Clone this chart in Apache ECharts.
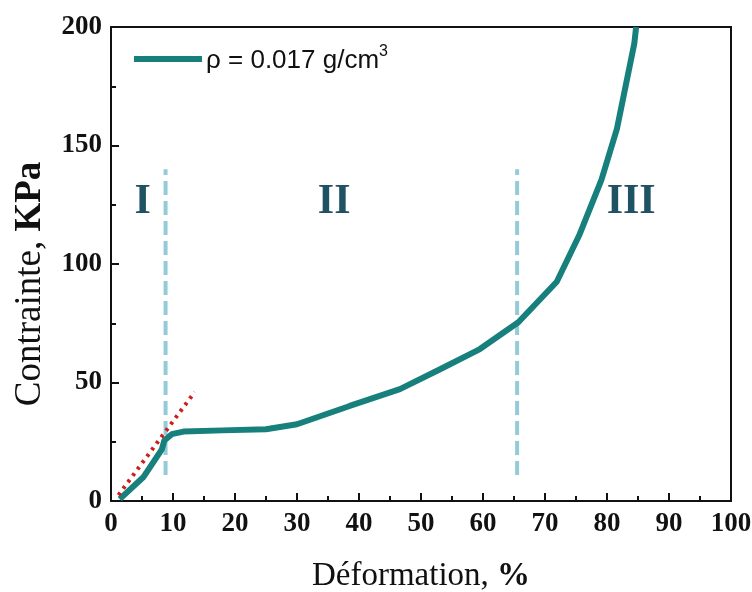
<!DOCTYPE html>
<html><head><meta charset="utf-8">
<script src="https://cdn.jsdelivr.net/npm/echarts@6/dist/echarts.min.js"></script>
<style>html,body{margin:0;padding:0;background:#fff}#c{width:752px;height:592px}</style>
</head><body><div id="c"></div>
<script>
const strain = [1.4, 5.2, 8.2, 8.6, 9.8, 11.7, 18, 25, 30, 38.5, 46.6, 53, 59.5, 65.7, 71.9, 75.5, 79.1, 81.6, 83.7, 84.4, 84.7];
const stress = [0.8, 10, 21.8, 25.5, 28.2, 29.3, 29.8, 30.3, 32.4, 40.1, 47.2, 55.5, 64.1, 75.4, 92.5, 112, 135.5, 157, 184, 193, 200];
const tangentX = [1.2, 13.5];
const tangentY = [2.5, 46];
const dividerX = [8.8, 65.5];
const dividerY = [11, 140];
const regionNames = ['I', 'II', 'III'];
const regionX = [5.1, 36, 83.9];
const regionY = [126, 126, 126];
const xTicks = [0,10,20,30,40,50,60,70,80,90,100];
const yTicks = [0,50,100,150,200];

const teal = '#17807d';
const curve = strain.map((x,i)=>[x, stress[i]]);
const series = [];
dividerX.forEach((x)=>{
  series.push({type:'line', data:[[x,dividerY[0]],[x,dividerY[1]]], symbol:'none', silent:true,
    lineStyle:{color:'#93cbd9', width:4, type:[14,6]}, z:1});
});
series.push({type:'line', data: tangentX.map((x,i)=>[x,tangentY[i]]), symbol:'none', silent:true,
  lineStyle:{color:'#d01c1c', width:4, type:[3,5]}, z:3});
series.push({name:'rho', type:'line', data:curve, symbol:'none', lineStyle:{color:teal, width:6}, itemStyle:{color:teal}, z:2});
series.push({type:'scatter', data: regionNames.map((n,i)=>({value:[regionX[i],regionY[i]], name:n})), symbolSize:0,
  itemStyle:{color:'#1f5263', opacity:1},
  label:{show:true, position:'inside', formatter:'{b}', color:'#1f5263', textBorderWidth:0, fontFamily:'Liberation Serif', fontWeight:'bold', fontSize:42}});

const chart = echarts.init(document.getElementById('c'), null, {renderer:'canvas'});
chart.setOption({
  animation:false,
  backgroundColor:'#fff',
  grid:{left:111, right:21, top:27, bottom:91, show:true, borderColor:'#111', borderWidth:2, outerBoundsMode:'none', containLabel:false},
  legend:{data:['rho'], left:129, top:39, itemWidth:68, itemGap:4, itemHeight:14, icon:'path://M0,4 L68,4 L68,10 L0,10 Z',
    formatter:()=> '{a|ρ = 0.017 g/cm}{s|3}',
    textStyle:{padding:[0,0,0,-1], rich:{a:{fontFamily:'Liberation Sans', fontSize:26, lineHeight:30, color:'#111', verticalAlign:'bottom'}, s:{fontFamily:'Liberation Sans', fontSize:16, lineHeight:30, color:'#111', verticalAlign:'top'}}}},
  graphic:[{type:'text', x:30, y:284, rotation:Math.PI/2,
    style:{text:'{a|Contrainte, }{b|KPa}', align:'center', verticalAlign:'middle',
      rich:{a:{fontFamily:'Liberation Serif', fontSize:37, fill:'#111'}, b:{fontFamily:'Liberation Serif', fontSize:37, fontWeight:'bold', fill:'#111'}}}}],
  xAxis:{type:'value', min:0, max:100, interval:10,
    name:'{a|Déformation, }{b|%}', nameLocation:'middle', nameGap:59,
    nameTextStyle:{rich:{a:{fontFamily:'Liberation Serif', fontSize:33, color:'#111'}, b:{fontFamily:'Liberation Serif', fontSize:33, fontWeight:'bold', color:'#111'}}},
    axisLine:{lineStyle:{color:'#111', width:2}},
    axisTick:{inside:true, length:8, lineStyle:{color:'#111', width:2}},
    minorTick:{show:true, splitNumber:2, length:5, lineStyle:{color:'#111', width:2}},
    splitLine:{show:false},
    axisLabel:{fontFamily:'Liberation Serif', fontWeight:'bold', fontSize:27, color:'#111', margin:10}},
  yAxis:{type:'value', min:0, max:200, interval:50,
    axisLine:{show:true, lineStyle:{color:'#111', width:2}},
    axisTick:{show:true, inside:true, length:8, lineStyle:{color:'#111', width:2}},
    minorTick:{show:true, splitNumber:2, length:5, lineStyle:{color:'#111', width:2}},
    splitLine:{show:false},
    axisLabel:{fontFamily:'Liberation Serif', fontWeight:'bold', fontSize:27, color:'#111', margin:9}},
  series
});
</script></body></html>
